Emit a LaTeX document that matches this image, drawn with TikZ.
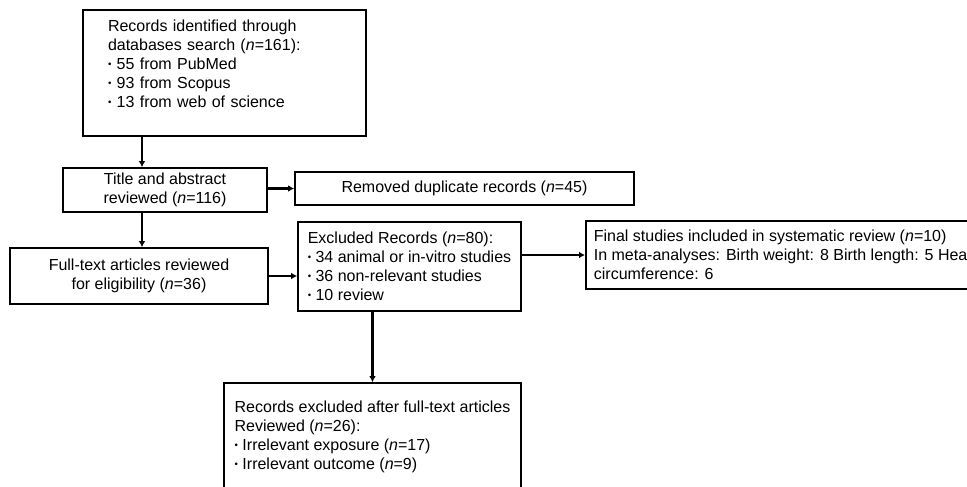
\documentclass[tikz,border=0pt]{standalone}
\usepackage{fontspec}
\setmainfont{Liberation Sans}
\usepackage{tikz}
\usetikzlibrary{shapes,arrows.meta}
\tikzset{
	box/.style      = {draw, rectangle, line width=1.3pt, inner sep=0pt,
		font=\fontsize{12}{14.25}\selectfont},
	cbox/.style     = {box, align=center}, % centred text
	lbox/.style     = {box, align=left}, % listed text
	tap/.style      = {coordinate} % spine of the left column
}
\newcommand{\itm}{\raisebox{0.13em}{\scalebox{0.6}{•}}}

\begin{document}
\begin{tikzpicture}[x=0.75pt, y=-0.75pt, line width=1.7pt, >={Latex[length=4.5pt,width=5pt]}]
	\useasboundingbox (0,0) rectangle (967,486);
	\clip (0,0) rectangle (967,486);
	\draw
	node at (224.5,73)[lbox, minimum height=94.5pt, text width=174.75pt, inner xsep=18.75pt] (id1)
		{Records identified through\\ databases search (\textit{n}=161):\\ \itm{} 55 from PubMed\\ \itm{} 93 from Scopus\\ \itm{} 13 from web of science\\ \mbox{}}
	node at (165,190)[cbox, minimum width=153pt, minimum height=33pt] (ta1)
		{Title and abstract\\ reviewed (\textit{n}=116)}
	node at (464.5,188.5)[cbox, minimum width=254.25pt, minimum height=24.75pt] (rm1)
		{Removed duplicate records (\textit{n}=45)}
	node at (139,276)[cbox, minimum width=193.5pt, minimum height=42pt] (ft1)
		{Full-text articles reviewed\\ for eligibility (\textit{n}=36)}
	node at (409.5,266.5)[lbox, minimum width=167.25pt, minimum height=66.75pt] (ex1)
		{Excluded Records (\textit{n}=80):\\ \itm{} 34 animal or in-vitro studies\\ \itm{} 36 non-relevant studies\\ \itm{} 10 review}
	node at (585,255)[lbox, anchor=west, minimum height=51pt, inner xsep=6pt] (in1)
		{Final studies included in systematic review (\textit{n}=10)\\ In meta-analyses: Birth weight: 8 Birth length: 5 Head\\ circumference: 6}
	node at (372.5,436.5)[lbox, minimum width=222.75pt, minimum height=80.25pt] (ex2)
		{Records excluded after full-text articles\\ Reviewed (\textit{n}=26):\\ \itm{} Irrelevant exposure (\textit{n}=17)\\ \itm{} Irrelevant outcome (\textit{n}=9)}
	node at (142,0)[tap] (sp) {}
	;
	
	\draw[->](id1.south -| sp) -- (ta1.north -| sp);
	\draw[->](ta1.east |- rm1.west) -- (rm1.west);
	\draw[->](ta1.south -| sp) -- (ft1.north -| sp);
	\draw[->](ft1.east) -- (ft1.east -| ex1.west);
	\draw[->](ex1.east |- in1.west) -- (in1.west);
	\draw[->](ex1.south -| ex2.north) -- (ex2.north);
\end{tikzpicture}
\end{document}
